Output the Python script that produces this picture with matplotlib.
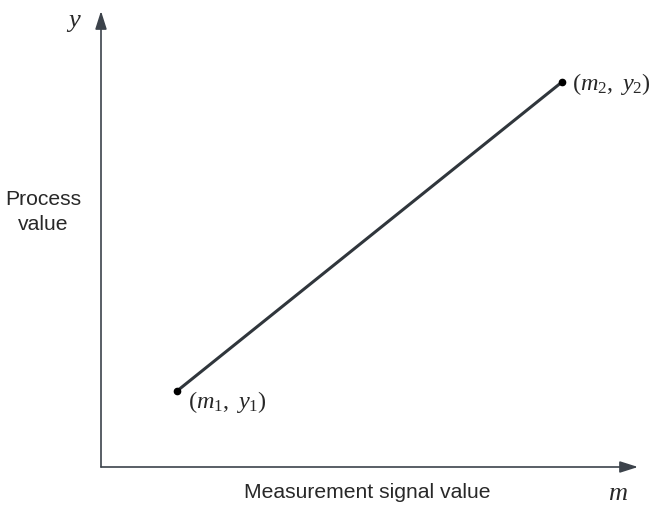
import matplotlib.pyplot as plt

plt.rcParams['mathtext.fontset'] = 'custom'
plt.rcParams['mathtext.rm'] = 'Liberation Serif'
plt.rcParams['mathtext.it'] = 'Liberation Serif:italic'

# two calibration points (measurement, process value)
m_vals = [76, 461]
y_vals = [76, 385]
point_labels = [r'$(m_\mathit{1},\ y_\mathit{1})$', r'$(m_\mathit{2},\ y_\mathit{2})$']

fig = plt.figure(figsize=(6.52, 5.05), dpi=100)
ax = fig.add_axes([101 / 652, 38 / 505, 539 / 652, 457 / 505])
ax.set_xlim(0, 539)
ax.set_ylim(0, 457)
ax.axis('off')

axis_col = '#3c434b'
line_col = '#30363c'
txt_col = '#282828'

# axes with arrow heads
ax.annotate('', xy=(537, 0), xytext=(0, 0),
            arrowprops=dict(arrowstyle='-|>,head_length=1.1,head_width=0.35',
                            color=axis_col, lw=1.2, shrinkA=0, shrinkB=0))
ax.annotate('', xy=(0, 456), xytext=(0, 0),
            arrowprops=dict(arrowstyle='-|>,head_length=1.1,head_width=0.35',
                            color=axis_col, lw=1.2, shrinkA=0, shrinkB=0))

ax.plot(m_vals, y_vals, color=line_col, lw=2.2, solid_capstyle='round')
ax.plot(m_vals, y_vals, 'o', color='black', ms=4.5)

ax.text(m_vals[0] + 11, y_vals[0] - 11, point_labels[0], fontsize=17.5,
        ha='left', va='center', color=txt_col)
ax.text(m_vals[1] + 10, y_vals[1] - 2, point_labels[1], fontsize=17.5,
        ha='left', va='center', color=txt_col)

ax.text(-27, 446, '$y$', fontsize=19, ha='center', va='center', color=txt_col)
ax.text(517, -26, '$m$', fontsize=19, ha='center', va='center', color=txt_col)

fig.text(43 / 652, 1 - 212 / 505, 'Process\nvalue', fontsize=15.2,
         family='Liberation Sans', ha='center', va='center', color=txt_col,
         linespacing=1.38)
fig.text(367 / 652, 1 - 492 / 505, 'Measurement signal value', fontsize=15.2,
         family='Liberation Sans', ha='center', va='center', color=txt_col)

fig.savefig('out.png', dpi=100)
